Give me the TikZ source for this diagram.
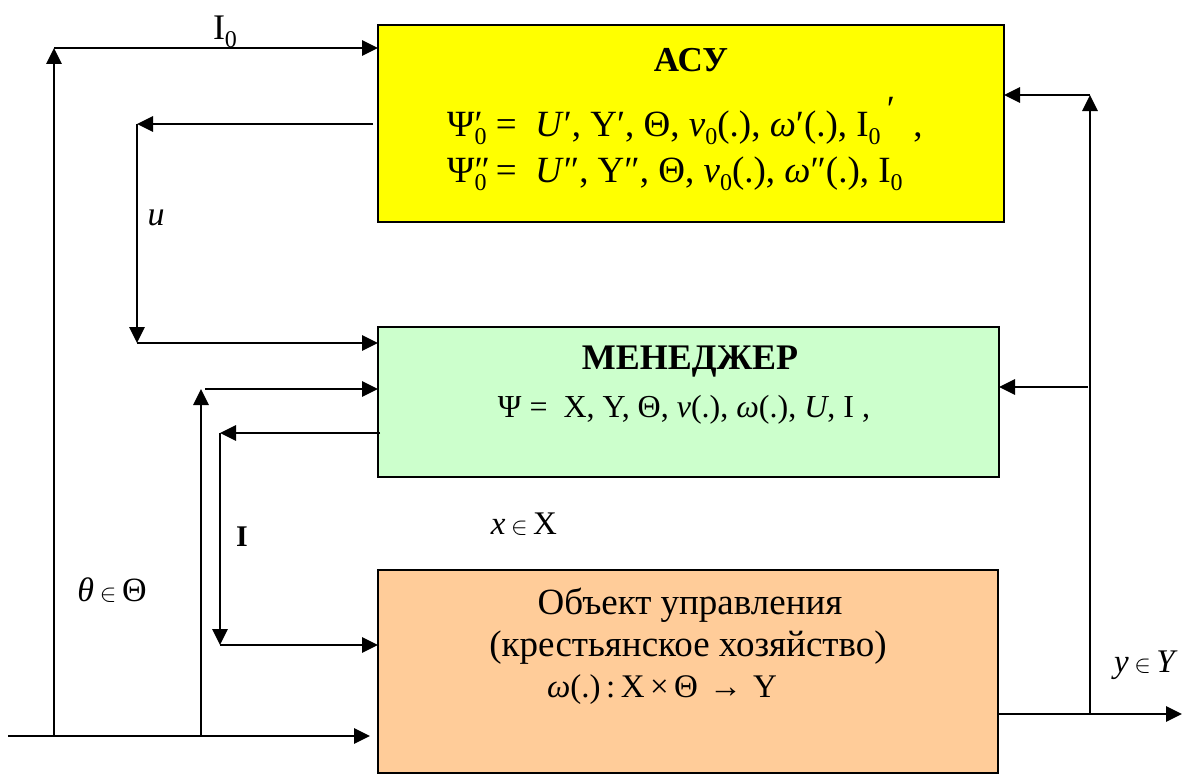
\documentclass[tikz,border=0pt]{standalone}
\usepackage{fontspec}
\setmainfont{Liberation Serif}
\usetikzlibrary{arrows.meta}
\definecolor{acsyellow}{RGB}{255,255,0}
\definecolor{mgrgreen}{RGB}{204,255,204}
\definecolor{objorange}{RGB}{255,204,153}
\newcommand\lowz{\raisebox{-0.22em}{\fontsize{24}{24}\selectfont 0}}
\newcommand\elem{\,$\in$\,}
\begin{document}
\begin{tikzpicture}[x=1pt,y=-1pt,
  blockbox/.style={draw=black, line width=2pt, anchor=north west, inner sep=0pt, outer sep=0pt},
  arr/.style={line width=2.8pt, -{Triangle[length=16pt,width=15pt]}},
  lbl/.style={inner sep=0pt, font=\fontsize{34}{38}\selectfont},
  formula/.style={lbl, anchor=west, text height=24pt, text depth=5pt, font=\fontsize{37}{40}\selectfont}]
\useasboundingbox (0,0) rectangle (1184,776);
% blocks
\node[blockbox, fill=acsyellow, minimum width=626pt, minimum height=197pt] (acs) at (378,25) {};
\node[blockbox, fill=mgrgreen, minimum width=621pt, minimum height=150pt] (mgr) at (378,327) {};
\node[blockbox, fill=objorange, minimum width=620pt, minimum height=203pt] (obj) at (378,570) {};
% block texts
\node[lbl, font=\fontsize{35}{38}\selectfont\bfseries] (tacs) at (691,60) {АСУ};
\node[formula] (f1) at (447,127)
  {Ψ\rlap{′}\lowz\ =\ \ \textit{U}′, Y′, Θ, \textit{ν}\lowz(.), \textit{ω}′(.), I\lowz\,\raisebox{0.4em}{′}\ \ ,};
\node[formula] (f2) at (447,173)
  {Ψ\rlap{″}\lowz\ =\ \ \textit{U}″, Y″, Θ, \textit{ν}\lowz(.), \textit{ω}″(.), I\lowz};
\node[lbl, font=\fontsize{36}{40}\selectfont\bfseries] (tmgr) at (690,362) {МЕНЕДЖЕР};
\node[lbl, font=\fontsize{32}{36}\selectfont] (fmgr) at (684,410)
  {Ψ =\ \ X, Y, Θ, \textit{ν}(.), \textit{ω}(.), \textit{U}, I ,};
\node[lbl, font=\fontsize{37}{40}\selectfont] (tobj1) at (690,605) {Объект управления};
\node[lbl, font=\fontsize{37}{40}\selectfont] (tobj2) at (688,648) {(крестьянское хозяйство)};
\node[lbl, font=\fontsize{33}{36}\selectfont] (tobj3) at (662,690) {\textit{ω}(.)\,:\,X\,×\,Θ\,\,→\,\,Y};
% coordinates
\coordinate (in0) at (8,736);
\coordinate (in1) at (370,736);
\coordinate (L0) at (54,736);
\coordinate (T0) at (54,48);
\coordinate (u1) at (373,124);
\coordinate (u2) at (137,124);
\coordinate (u3) at (137,343);
\coordinate (th0) at (201,736);
\coordinate (th1) at (201,389);
\coordinate (th2) at (205,389);
\coordinate (i1) at (380,433);
\coordinate (i2) at (220,433);
\coordinate (i3) at (220,645);
\coordinate (o0) at (998,714);
\coordinate (o1) at (1090,714);
\coordinate (out1) at (1182,714);
\coordinate (o2) at (1090,95);
\coordinate (o3) at (1088,387);
% connectors
\draw[arr] (in0) -- (in1);
\draw[arr] (L0) -- (T0);
\draw[arr] (T0) -- (T0 -| acs.west);
\draw[arr] (u1) -- (u2);
\draw[arr] (u2) -- (u3);
\draw[arr] (u3) -- (u3 -| mgr.west);
\draw[arr] (th0) -- (th1);
\draw[arr] (th2) -- (th2 -| mgr.west);
\draw[arr] (i1) -- (i2);
\draw[arr] (i2) -- (i3);
\draw[arr] (i3) -- (i3 -| obj.west);
\draw[arr] (o0) -- (out1);
\draw[arr] (o1) -- (o2);
\draw[arr] (o2) -- (o2 -| acs.east);
\draw[arr] (o3) -- (o3 -| mgr.east);
% labels
\node[lbl, font=\fontsize{36}{40}\selectfont] (lI0) at (225,32) {I\lowz};
\node[lbl, font=\fontsize{34}{38}\selectfont\itshape] (lu) at (156,218) {u};
\node[lbl, font=\fontsize{34}{38}\selectfont] (lth) at (112,590) {\textit{θ}\elem Θ};
\node[lbl, font=\fontsize{30}{34}\selectfont\bfseries] (lI) at (242,537) {I};
\node[lbl, font=\fontsize{33}{36}\selectfont] (lx) at (524,524) {\textit{x}\elem X};
\node[lbl, font=\fontsize{33}{36}\selectfont] (ly) at (1146,665) {\textit{y}\elem\textit{Y}};
\end{tikzpicture}
\end{document}
